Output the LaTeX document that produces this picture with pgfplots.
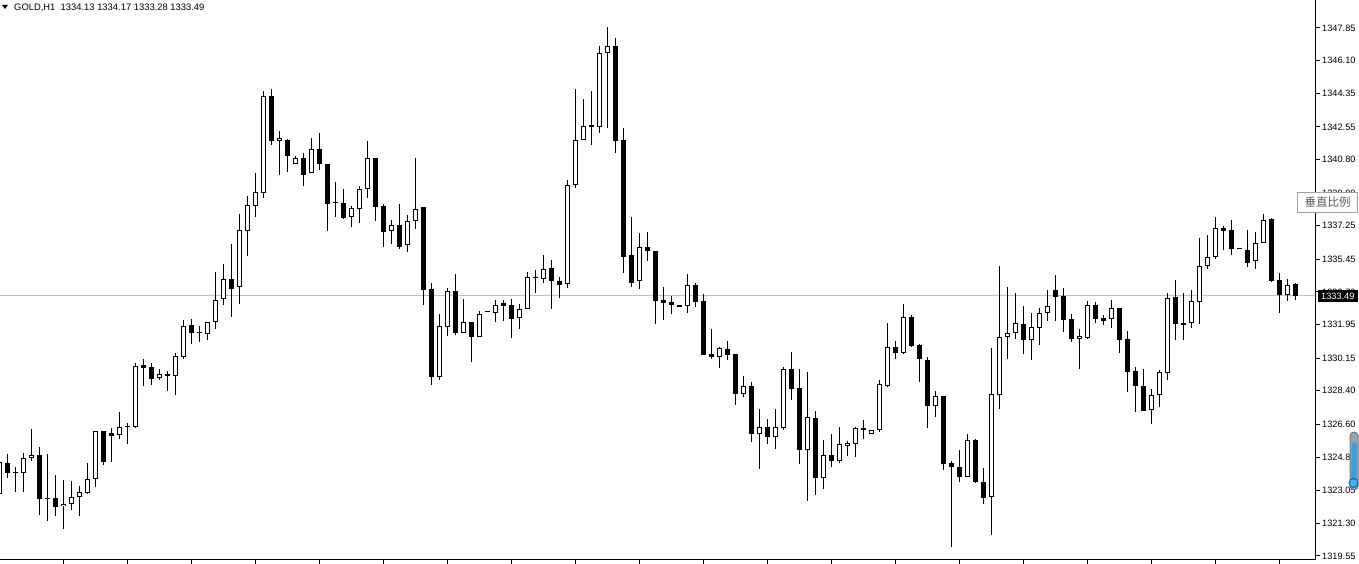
\documentclass[border=0pt]{standalone}
\usepackage{pgfplots}
\usepackage{pgfplotstable}
\pgfplotsset{compat=1.18}
\usepackage{fontspec}
\setmainfont{Liberation Sans}
\newfontfamily\cjk{Noto Sans CJK SC}
\definecolor{priceline}{RGB}{192,192,192}
\definecolor{tipborder}{RGB}{160,160,160}
\definecolor{tiptext}{RGB}{90,90,90}
\definecolor{trackgray}{RGB}{110,125,140}
\definecolor{trackblue}{RGB}{58,160,216}
\definecolor{knobblue}{RGB}{70,178,232}
\definecolor{knobedge}{RGB}{30,100,150}

\pgfplotstableread{
o h l c
1322.87 1324.80 1322.76 1324.59
1324.53 1325.02 1323.73 1324.00
1324.00 1324.32 1322.98 1324.00
1324.00 1325.07 1322.98 1324.80
1324.80 1326.36 1324.64 1324.96
1324.96 1325.39 1321.75 1322.60
1322.60 1325.02 1321.42 1322.60
1322.66 1323.89 1321.69 1322.18
1322.23 1323.62 1321.00 1322.34
1322.34 1323.57 1322.01 1322.71
1322.71 1323.30 1321.69 1322.98
1322.93 1324.53 1322.87 1323.68
1323.68 1326.25 1323.25 1326.25
1326.25 1326.25 1324.43 1324.59
1326.14 1326.41 1324.59 1325.98
1326.03 1327.27 1325.82 1326.46
1326.52 1326.68 1325.55 1326.46
1326.46 1329.89 1326.41 1329.73
1329.79 1330.11 1328.66 1329.63
1329.68 1329.89 1328.71 1329.04
1329.09 1329.57 1328.98 1329.30
1329.30 1329.46 1328.39 1329.20
1329.20 1330.43 1328.18 1330.27
1330.22 1332.20 1330.11 1331.88
1331.93 1332.25 1330.91 1331.50
1331.50 1331.88 1331.02 1331.50
1331.45 1332.09 1331.13 1332.09
1332.09 1334.77 1331.72 1333.27
1333.32 1335.20 1333.00 1334.40
1334.40 1336.27 1332.36 1333.86
1333.97 1337.88 1333.06 1337.02
1336.97 1338.84 1335.63 1338.36
1338.31 1340.08 1337.72 1339.06
1339.01 1344.47 1338.74 1344.20
1344.20 1344.58 1341.58 1341.79
1341.79 1342.33 1339.97 1341.95
1341.85 1341.90 1340.13 1340.99
1340.56 1340.99 1340.56 1340.88
1340.88 1341.15 1339.38 1339.97
1340.08 1341.95 1340.08 1341.36
1341.36 1342.22 1340.24 1340.56
1340.56 1340.56 1336.97 1338.42
1338.47 1339.60 1337.72 1338.47
1338.47 1339.22 1337.61 1337.67
1337.72 1338.31 1337.18 1338.20
1338.15 1339.38 1337.40 1339.22
1339.22 1341.79 1338.74 1340.88
1340.88 1340.88 1337.50 1338.26
1338.31 1338.42 1336.11 1336.92
1336.97 1337.56 1336.27 1337.29
1337.29 1338.42 1336.00 1336.11
1336.22 1337.83 1335.84 1337.50
1337.50 1340.88 1337.08 1338.15
1338.26 1338.26 1333.00 1333.81
1333.86 1334.18 1328.71 1329.14
1329.14 1332.52 1328.98 1331.88
1331.82 1333.91 1331.34 1333.75
1333.75 1334.66 1331.39 1331.50
1331.50 1333.32 1331.50 1332.09
1332.09 1332.09 1329.95 1331.29
1331.29 1332.68 1331.29 1332.52
1332.63 1332.63 1332.63 1332.63
1332.57 1333.27 1332.09 1333.00
1333.11 1333.27 1332.14 1332.95
1333.00 1333.32 1331.23 1332.25
1332.31 1333.06 1331.72 1332.79
1332.79 1334.77 1332.79 1334.50
1334.45 1334.88 1333.65 1334.45
1334.40 1335.68 1334.18 1334.93
1334.99 1335.41 1332.79 1334.29
1334.29 1334.50 1333.38 1334.07
1334.13 1339.70 1333.91 1339.43
1339.43 1344.58 1339.27 1341.85
1341.85 1344.04 1341.85 1342.60
1342.65 1344.47 1341.58 1342.54
1342.54 1346.88 1342.22 1346.51
1346.51 1347.90 1342.49 1346.88
1346.88 1347.31 1341.15 1341.79
1341.85 1342.49 1334.72 1335.58
1335.68 1337.72 1333.97 1334.18
1334.29 1336.86 1333.86 1336.11
1336.11 1336.92 1335.36 1335.90
1335.90 1335.90 1331.98 1333.22
1333.27 1333.97 1332.20 1333.11
1333.16 1333.48 1332.52 1333.00
1333.00 1333.00 1332.90 1332.90
1332.95 1334.66 1332.57 1334.07
1334.07 1334.18 1332.90 1333.16
1333.22 1333.59 1330.32 1330.32
1330.38 1331.72 1330.11 1330.22
1330.22 1330.75 1329.63 1330.70
1330.64 1331.07 1330.05 1330.32
1330.38 1330.38 1327.64 1328.23
1328.23 1329.20 1328.07 1328.66
1328.66 1328.88 1325.66 1326.09
1326.09 1327.43 1324.21 1326.46
1326.46 1326.89 1325.55 1325.93
1325.93 1327.43 1325.28 1326.46
1326.41 1329.68 1326.30 1329.57
1329.57 1330.48 1327.91 1328.50
1328.55 1329.57 1324.48 1325.23
1325.23 1329.41 1322.50 1327.00
1326.95 1327.32 1322.82 1323.73
1323.73 1325.77 1323.14 1324.96
1324.96 1326.09 1324.32 1324.64
1324.64 1326.46 1324.53 1325.55
1325.44 1325.71 1324.91 1325.61
1325.55 1326.46 1324.86 1326.41
1326.41 1326.84 1325.82 1326.30
1326.09 1326.30 1326.09 1326.30
1326.30 1328.98 1326.20 1328.77
1328.66 1332.04 1328.61 1330.75
1330.75 1331.07 1330.11 1330.43
1330.43 1333.06 1330.38 1332.36
1332.36 1332.47 1330.75 1330.80
1330.86 1330.91 1328.88 1330.11
1330.05 1330.22 1326.41 1327.59
1327.59 1328.39 1327.00 1328.12
1328.12 1328.12 1324.16 1324.48
1324.53 1324.64 1320.03 1324.32
1324.32 1325.23 1323.52 1323.78
1323.78 1326.09 1323.78 1325.77
1325.77 1325.82 1323.46 1323.52
1323.52 1324.27 1322.34 1322.66
1322.71 1330.70 1320.67 1328.23
1328.18 1335.09 1327.43 1331.29
1331.29 1333.97 1330.11 1331.50
1331.50 1333.65 1331.18 1332.04
1331.98 1332.95 1330.38 1331.13
1331.13 1332.57 1330.05 1331.82
1331.77 1332.84 1330.86 1332.57
1332.57 1333.81 1332.14 1332.95
1333.81 1334.61 1332.14 1333.43
1333.48 1333.91 1331.56 1332.20
1332.25 1332.52 1331.02 1331.18
1331.18 1331.72 1329.57 1331.34
1331.23 1333.22 1331.18 1333.00
1333.00 1333.16 1332.04 1332.25
1332.31 1332.47 1331.93 1332.14
1332.25 1333.27 1331.77 1332.84
1332.84 1332.84 1330.43 1331.13
1331.18 1331.61 1328.34 1329.41
1329.46 1329.68 1327.27 1328.66
1328.66 1329.57 1327.32 1327.32
1327.37 1328.50 1326.62 1328.18
1328.18 1329.52 1327.54 1329.41
1329.36 1333.65 1328.98 1333.38
1333.43 1334.34 1331.13 1331.98
1332.04 1333.65 1331.13 1331.93
1332.04 1333.81 1331.77 1333.22
1333.16 1336.59 1331.98 1335.09
1335.09 1336.75 1334.93 1335.58
1335.58 1337.72 1335.47 1337.13
1337.13 1337.24 1335.95 1336.97
1337.02 1337.56 1335.68 1336.00
1336.00 1336.00 1336.00 1336.00
1335.95 1337.02 1335.04 1335.25
1335.36 1336.92 1334.93 1336.33
1336.33 1337.88 1336.33 1337.56
1337.61 1337.67 1334.24 1334.29
1334.34 1334.72 1332.57 1333.54
1333.54 1334.40 1333.22 1334.07
1334.13 1334.17 1333.28 1333.49
}\candles

\begin{document}
\begin{tikzpicture}
\useasboundingbox (0pt,0pt) rectangle (1359pt,564pt);
\begin{axis}[
  at={(0pt,4pt)}, anchor=south west,
  scale only axis, width=1315pt, height=560pt,
  xmin=0.125, xmax=164.5, ymin=1319.33, ymax=1349.35,
  axis x line=bottom, axis y line=right,
  axis line style={-, black, line width=1pt},
  xtick={8,16,...,160}, xticklabels={},
  ytick={1319.55,1321.30,1323.05,1324.85,1326.60,1328.40,1330.15,1331.95,1333.70,1335.45,1337.25,1339.00,1340.80,1342.55,1344.35,1346.10,1347.85},
  yticklabels={1319.55,1321.30,1323.05,1324.85,1326.60,1328.40,1330.15,1331.95,1333.70,1335.45,1337.25,1339.00,1340.80,1342.55,1344.35,1346.10,1347.85},
  tick align=outside, major tick length=5pt,
  tick style={black, line width=1pt},
  yticklabel style={anchor=west, inner sep=0pt, xshift=2pt, font=\fontsize{9.2}{10}\selectfont},
  clip=true,
]
% current price line
\addplot[draw=priceline, line width=1pt] coordinates {(0,1333.49) (165,1333.49)};
% wicks
\addplot[draw=none, mark=none, error bars/.cd, y dir=plus, y explicit, error mark=none,
  error bar style={draw=black, line width=1pt}]
  table[x expr=\coordindex, y=l, y error expr={\thisrow{h}-\thisrow{l}}] {\candles};
% bearish / doji bodies
\addplot[draw=none, mark=none, error bars/.cd, y dir=plus, y explicit, error mark=none,
  error bar style={draw=black, line width=5pt}]
  table[x expr={ifthenelse(\thisrow{c}<=\thisrow{o},\coordindex,-100)}, y=c,
        y error expr={max(\thisrow{o}-\thisrow{c},0.054)}] {\candles};
% bullish body outline
\addplot[draw=none, mark=none, error bars/.cd, y dir=plus, y explicit, error mark=none,
  error bar style={draw=black, line width=5pt}]
  table[x expr={ifthenelse(\thisrow{c}>\thisrow{o},\coordindex,-100)}, y=o,
        y error expr={\thisrow{c}-\thisrow{o}}] {\candles};
% bullish body fill
\addplot[draw=none, mark=none, error bars/.cd, y dir=plus, y explicit, error mark=none,
  error bar style={draw=white, line width=3pt}]
  table[x expr={ifthenelse(\thisrow{c}>\thisrow{o},\coordindex,-100)}, y expr={\thisrow{o}+0.054},
        y error expr={max(\thisrow{c}-\thisrow{o}-0.107,0)}] {\candles};
\end{axis}
% title
\fill[black] (2pt,559pt) -- (8pt,559pt) -- (5pt,555pt) -- cycle;
\node[anchor=west, inner sep=0pt, font=\fontsize{9.4}{10}\selectfont] at (14pt,556.5pt)
  {GOLD,H1\ \ 1334.13 1334.17 1333.28 1333.49};
% current price label
\fill[black] (1318pt,262pt) rectangle (1358pt,274pt);
\node[anchor=west, inner sep=0pt, text=white, font=\fontsize{9.2}{10}\selectfont] at (1321pt,268pt) {1333.49};
% tooltip
\draw[draw=tipborder, fill=white] (1297.5pt,352pt) rectangle (1357.5pt,371.5pt);
\node[text=tiptext, inner sep=0pt, font=\cjk\fontsize{11.5}{12}\selectfont] at (1327.5pt,361.75pt) {垂直比例};
% scale slider
\draw[draw=trackgray, fill=trackgray!70, rounded corners=4pt, line width=1pt] (1350pt,74pt) rectangle (1358pt,132pt);
\fill[trackblue, rounded corners=3pt] (1351.5pt,76pt) rectangle (1356.5pt,122pt);
\draw[draw=knobedge, fill=knobblue, line width=1pt] (1353.5pt,81pt) circle (4.5pt);
\end{tikzpicture}
\end{document}
